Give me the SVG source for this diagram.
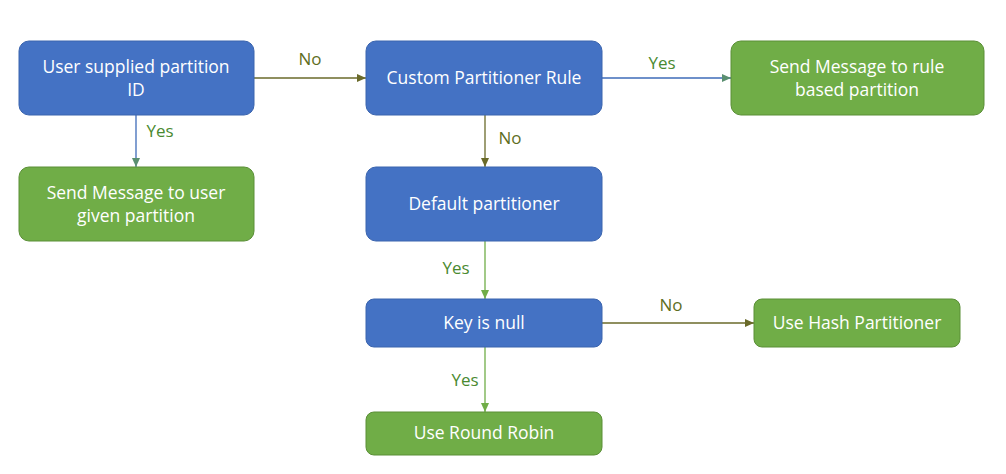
<svg xmlns="http://www.w3.org/2000/svg" width="1006" height="474" viewBox="0 0 1006 474">
<defs>
<style>
.blue{fill:#4472c4;stroke:#3a64ae;stroke-width:1}
.green{fill:#70ad47;stroke:#5a8f36;stroke-width:1}
.t{font-family:"Open Sans","Liberation Sans",sans-serif;font-size:17.5px;fill:#ffffff;text-anchor:middle}
.lbl{font-family:"Open Sans","Liberation Sans",sans-serif;font-size:17px;text-anchor:middle}
.no{fill:#5e6e1e}
.yes{fill:#4a8a30}
.olive{stroke:#6a6a2a;stroke-width:1.3;fill:none}
.bl{stroke:#3e6bb8;stroke-width:1.3;fill:none}
.gr{stroke:#70ad47;stroke-width:1.3;fill:none}
</style>
<marker id="ao" markerWidth="10" markerHeight="10" refX="9" refY="5" orient="auto" markerUnits="userSpaceOnUse"><path d="M0,1 L9,5 L0,9 z" fill="#6a6a2a"/></marker>
<marker id="ab" markerWidth="10" markerHeight="10" refX="9" refY="5" orient="auto" markerUnits="userSpaceOnUse"><path d="M0,1 L9,5 L0,9 z" fill="#5a8f70"/></marker>
<marker id="ag" markerWidth="10" markerHeight="10" refX="9" refY="5" orient="auto" markerUnits="userSpaceOnUse"><path d="M0,1 L9,5 L0,9 z" fill="#70ad47"/></marker>
</defs>
<rect width="1006" height="474" fill="#ffffff"/>
<g id="connectors">
<line class="olive" x1="254" y1="78" x2="366" y2="78" marker-end="url(#ao)"/>
<line class="bl" x1="602" y1="78" x2="731" y2="78" marker-end="url(#ab)"/>
<line class="bl" x1="136" y1="115" x2="136" y2="167" marker-end="url(#ab)"/>
<line class="olive" x1="485" y1="115" x2="485" y2="167" marker-end="url(#ao)"/>
<line class="gr" x1="485" y1="241" x2="485" y2="299" marker-end="url(#ag)"/>
<line class="olive" x1="602" y1="323" x2="754" y2="323" marker-end="url(#ao)"/>
<line class="gr" x1="485" y1="347" x2="485" y2="412" marker-end="url(#ag)"/>
<text class="lbl no" x="310" y="65">No</text>
<text class="lbl yes" x="662" y="69">Yes</text>
<text class="lbl yes" x="160" y="137">Yes</text>
<text class="lbl no" x="510" y="144">No</text>
<text class="lbl yes" x="456" y="274">Yes</text>
<text class="lbl no" x="671" y="311">No</text>
<text class="lbl yes" x="465" y="386">Yes</text>
</g>
<g id="n1"><rect class="blue" x="19" y="41" width="235" height="74" rx="10"/><text class="t" x="136" y="73">User supplied partition</text><text class="t" x="136" y="96">ID</text></g>
<g id="n2"><rect class="blue" x="366" y="41" width="236" height="74" rx="10"/><text class="t" x="484" y="84">Custom Partitioner Rule</text></g>
<g id="n3"><rect class="green" x="731" y="41" width="253" height="74" rx="10"/><text class="t" x="857" y="73">Send Message to rule</text><text class="t" x="857" y="96">based partition</text></g>
<g id="n4"><rect class="green" x="19" y="167" width="235" height="74" rx="10"/><text class="t" x="136" y="199">Send Message to user</text><text class="t" x="136" y="222">given partition</text></g>
<g id="n5"><rect class="blue" x="366" y="167" width="236" height="74" rx="10"/><text class="t" x="484" y="210">Default partitioner</text></g>
<g id="n6"><rect class="blue" x="366" y="299" width="236" height="48" rx="8"/><text class="t" x="484" y="329">Key is null</text></g>
<g id="n7"><rect class="green" x="754" y="299" width="206" height="48" rx="8"/><text class="t" x="857" y="329">Use Hash Partitioner</text></g>
<g id="n8"><rect class="green" x="366" y="412" width="236" height="43" rx="8"/><text class="t" x="484" y="439">Use Round Robin</text></g>
</svg>
